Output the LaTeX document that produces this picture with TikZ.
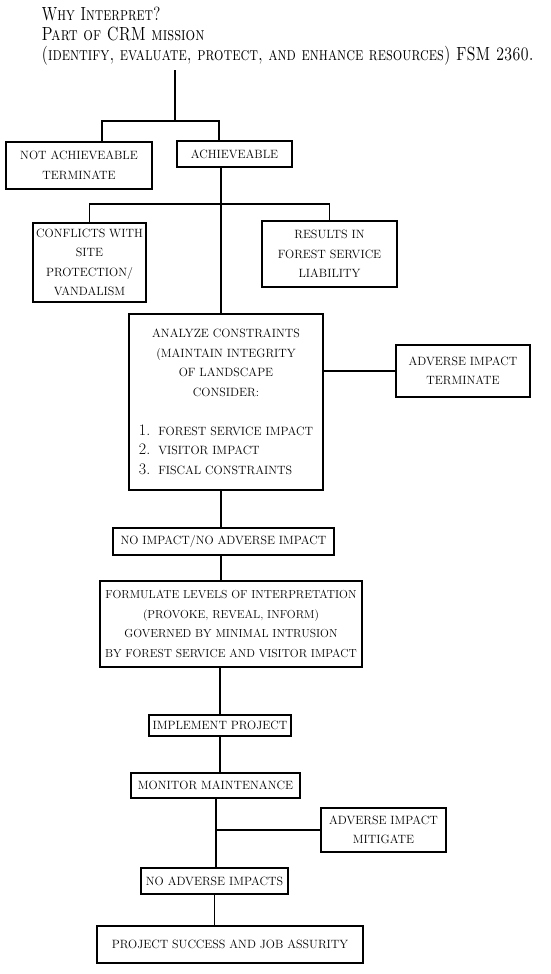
\documentclass[tikz,border=0pt]{standalone}
\usepackage{fontspec}
\newcommand{\boxfont}{\fontsize{12}{19.5}\selectfont}
\newcommand{\hdrfont}{\fontsize{19}{21.5}\selectfont\scshape}
\newcommand{\numfont}{\fontsize{16}{19.5}\selectfont}
\begin{document}
\begin{tikzpicture}[x=1pt,y=-1pt,line width=1.2pt,
  box/.style={draw,line width=1.4pt,inner sep=0pt,align=center,font=\boxfont},
  hdr/.style={anchor=base west,inner sep=0pt,font=\hdrfont}]
\useasboundingbox (0,0) rectangle (550,974);
% heading
\node[hdr] (why) at (41,21) {\resizebox{119pt}{\height}{Why Interpret?}};
\node[hdr] (part) at (41,41) {\resizebox{163pt}{\height}{Part of CRM mission}};
\node[hdr] (mission) at (41,61) {\resizebox{492pt}{\height}{(identify, evaluate, protect, and enhance resources) FSM 2360.}};
% first split
\coordinate (s1) at (175,121);
\node[box,minimum width=146,minimum height=47] (notach) at (79,165.5) {NOT ACHIEVEABLE\\TERMINATE};
\node[box,minimum width=115,minimum height=26] (ach) at (234.5,154) {ACHIEVEABLE};
% second split
\coordinate (s2) at (221,204);
\node[box,minimum width=113,minimum height=79] (conf) at (89.5,262.5) {CONFLICTS WITH\\SITE\\PROTECTION/\\VANDALISM};
\node[box,minimum width=135,minimum height=66] (res) at (329.5,254) {RESULTS IN\\FOREST SERVICE\\LIABILITY};
% constraints
\node[box,minimum width=194,minimum height=176] (anal) at (226,402) {%
  \begin{tabular}{@{}c@{}}
  ANALYZE CONSTRAINTS\\
  (MAINTAIN INTEGRITY\\
  OF LANDSCAPE\\
  CONSIDER:\\[19.5pt]
  \begin{tabular}{@{}l@{\hspace{8pt}}l@{}}
  {\numfont 1.} & FOREST SERVICE IMPACT\\
  {\numfont 2.} & VISITOR IMPACT\\
  {\numfont 3.} & FISCAL CONSTRAINTS
  \end{tabular}
  \end{tabular}};
\node[box,minimum width=134,minimum height=52] (advterm) at (463,371) {ADVERSE IMPACT\\TERMINATE};
% lower chain
\node[box,minimum width=221,minimum height=27] (noimp) at (223.5,541.5) {NO IMPACT/NO ADVERSE IMPACT};
\node[box,minimum width=262,minimum height=86,font=\fontsize{11.6}{19.5}\selectfont] (form) at (231,624) {FORMULATE LEVELS OF INTERPRETATION\\(PROVOKE, REVEAL, INFORM)\\GOVERNED BY MINIMAL INTRUSION\\BY FOREST SERVICE AND VISITOR IMPACT};
\node[box,minimum width=142,minimum height=21] (impl) at (220,725.5) {IMPLEMENT PROJECT};
\node[box,minimum width=169,minimum height=25] (mon) at (215.5,785.5) {MONITOR MAINTENANCE};
\coordinate (s3) at (216,830);
\node[box,minimum width=125,minimum height=44] (mit) at (383.5,830) {ADVERSE IMPACT\\MITIGATE};
\node[box,minimum width=147,minimum height=26] (noadv) at (214.5,881) {NO ADVERSE IMPACTS};
\node[box,minimum width=266,minimum height=37] (succ) at (230,944.5) {PROJECT SUCCESS AND JOB ASSURITY};
% connectors
\draw[shorten <=4pt] (mission.south -| s1) -- (s1);
\draw (s1) -| ([xshift=23pt]notach.north);
\draw (s1) -| ([xshift=-15.5pt]ach.north);
\draw (ach.south -| s2) -- (anal.north -| s2);
\draw (conf.north) |- (s2) -| (res.north);
\draw (anal.east |- advterm.west) -- (advterm.west);
\draw (anal.south -| s2) -- (noimp.north -| s2);
\draw (noimp.south -| s2) -- (form.north -| s2);
\draw (form.south -| impl.north) -- (impl.north);
\draw (impl.south) -- (mon.north -| impl.south);
\draw (mon.south -| s3) -- (noadv.north -| s3);
\draw (s3) -- (mit.west);
\draw (noadv.south) -- (succ.north -| noadv.south);
\end{tikzpicture}
\end{document}
